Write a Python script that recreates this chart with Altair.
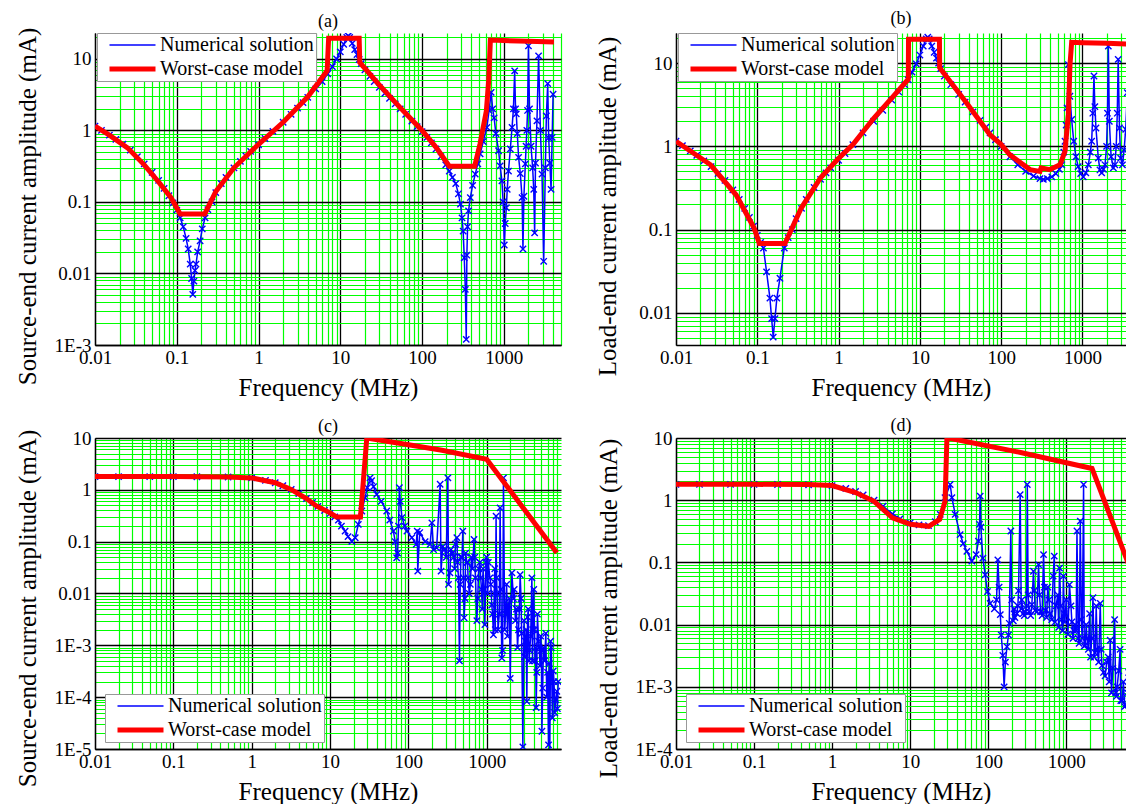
import altair as alt
import pandas as pd

FONT = "Liberation Serif"
GREEN = "#00ff00"
SERIES = ["Numerical solution", "Worst-case model"]

# ---------------- panel (a): source-end ----------------
a_blue_f = [0.01, 0.012, 0.015, 0.018, 0.022, 0.027, 0.033, 0.04, 0.05, 0.06, 0.07, 0.08, 0.09, 0.1, 0.11,
            0.12, 0.13, 0.138, 0.146, 0.152, 0.157, 0.162, 0.167, 0.172, 0.18, 0.193, 0.205, 0.222, 0.24, 0.27,
            0.3, 0.35, 0.4, 0.5, 0.6, 0.7, 0.8, 1.0, 1.2, 1.5, 2.0, 2.5, 3.0, 3.5, 4.0, 5.0, 6.0, 7.0, 8.0, 9.0,
            10, 11, 12, 12.5, 13, 14, 15, 16, 17, 18, 20, 23, 26, 30, 35, 40, 47, 54, 63, 75, 87, 100, 115, 130,
            148, 170, 195, 215, 235, 258, 278, 295, 308, 318, 328, 338, 347, 353, 360, 370, 389, 415, 447, 480,
            513, 560, 620, 660, 700, 730, 760, 800, 863, 900, 948, 980, 1013, 1040, 1073, 1100, 1140, 1200, 1260,
            1310, 1356, 1390, 1420, 1460, 1515, 1590, 1670, 1713, 1760, 1832, 1870, 1910, 1950, 2000, 2060, 2150,
            2250, 2320, 2380, 2440, 2540, 2660, 2800, 2930, 3070, 3220, 3310, 3440, 3535, 3650, 3780, 3900, 4000]
a_blue_v = [1.15, 1.0, 0.86, 0.75, 0.64, 0.53, 0.43, 0.34, 0.26, 0.2, 0.155, 0.122, 0.097, 0.077, 0.06,
            0.045, 0.031, 0.022, 0.0135, 0.0085, 0.0051, 0.0078, 0.011, 0.0135, 0.02, 0.0285, 0.042, 0.06, 0.078, 0.1,
            0.135, 0.18, 0.22, 0.3, 0.37, 0.44, 0.51, 0.63, 0.77, 0.97, 1.3, 1.68, 2.05, 2.45, 2.9, 3.8, 4.8, 6.2, 7.8, 10.0,
            12.5, 16, 20, 21, 20, 16.5, 13.5, 11.5, 9.8, 8.6, 7.0, 5.7, 4.8, 4.0, 3.3, 2.8, 2.35, 2.0, 1.68, 1.35, 1.13, 0.96, 0.8, 0.67,
            0.55, 0.43, 0.33, 0.27, 0.22, 0.18, 0.13, 0.093, 0.06, 0.039, 0.0166, 0.006, 0.0012, 0.018, 0.045, 0.075, 0.115, 0.17, 0.245, 0.34,
            0.47, 0.7, 1.1, 1.9, 3.4, 2.0, 1.5, 0.9, 0.52, 0.32, 0.197, 0.1, 0.025, 0.05, 0.083, 0.15, 0.27, 0.55, 1.1,
            2.0, 6.8, 2.0, 1.7, 0.9, 0.42, 0.25, 0.115, 0.022, 0.12, 0.34, 0.6, 1.0, 1.9, 15.2, 2.0, 0.6,
            0.3, 0.15, 0.037, 0.35, 1.36, 11, 1.0, 0.245, 0.0148, 0.3, 1.59, 4.5, 0.79, 0.35, 0.15, 0.8, 3.2]
a_red_f = [0.01, 0.015, 0.025, 0.04, 0.06, 0.085, 0.11, 0.22, 0.3, 0.5, 1.0, 2.0, 4.0, 6.9, 7.2, 17.0, 17.3,
           29, 54, 100, 150, 215, 440, 510, 611, 652, 684, 1000, 2000, 4100]
a_red_v = [1.15, 0.86, 0.57, 0.33, 0.19, 0.115, 0.068, 0.068, 0.14, 0.3, 0.64, 1.3, 2.95, 6.8, 19.5, 19.5, 8.9,
           4.5, 2.08, 1.0, 0.57, 0.316, 0.316, 0.64, 1.87, 4.9, 18.3, 18.0, 17.6, 17.2]

# ---------------- panel (b): load-end ----------------
b_blue_f = [0.01, 0.012, 0.015, 0.018, 0.022, 0.027, 0.033, 0.04, 0.05, 0.06, 0.07, 0.08, 0.09, 0.1, 0.11,
            0.119, 0.13, 0.143, 0.15, 0.157, 0.165, 0.174, 0.19, 0.215, 0.24, 0.27, 0.3, 0.35, 0.4, 0.5, 0.6, 0.7,
            0.8, 1.0, 1.2, 1.5, 2.0, 2.7, 3.5, 4.5, 5.5, 6.5, 7.2, 8, 9, 10, 11, 12, 12.5, 13, 14, 15, 16, 17, 18,
            20, 24, 30, 36, 45, 55, 65, 73, 85, 100, 128, 160, 200, 250, 300, 330, 370, 420, 470, 520, 556, 590,
            610, 630, 647, 670, 700, 736, 780, 830, 885, 950, 1023, 1100, 1180, 1250, 1297, 1340, 1385, 1420, 1465,
            1565, 1640, 1723, 1810, 1893, 1980, 2030, 2080, 2140, 2250, 2400, 2500, 2600, 2680, 2750, 2850, 2950,
            3100, 3250, 3400, 3560, 3650, 3800, 3950, 4100, 4250, 4400]
b_blue_v = [1.15, 1.02, 0.88, 0.78, 0.67, 0.57, 0.47, 0.39, 0.3, 0.23, 0.18, 0.14, 0.11, 0.085, 0.07,
            0.06, 0.031, 0.015, 0.0085, 0.0051, 0.0085, 0.015, 0.026, 0.06, 0.08, 0.1, 0.135, 0.18, 0.23, 0.32, 0.4, 0.48,
            0.55, 0.68, 0.82, 1.05, 1.45, 2.0, 2.7, 3.6, 4.5, 5.5, 6.3, 7.8, 9.8, 12.5, 16, 19.5, 20.5, 19.5, 16, 13.5, 11.5, 10, 8.6,
            7.0, 5.5, 4.2, 3.4, 2.6, 2.05, 1.7, 1.45, 1.2, 1.0, 0.75, 0.6, 0.5, 0.44, 0.41, 0.4, 0.41, 0.43, 0.47, 0.53, 0.6, 0.85,
            1.15, 1.8, 2.9, 9.6, 4.0, 2.1, 1.15, 0.75, 0.57, 0.47, 0.43, 0.48, 0.6, 0.85, 1.15, 2.5, 7.0, 3.0, 1.66,
            0.72, 0.52, 0.48, 0.53, 0.6, 1.0, 2.5, 16, 2.0, 0.75, 0.55, 0.6, 1.0, 2.5, 11.1, 1.66, 0.72,
            0.6, 0.9, 1.6, 4.4, 1.5, 0.9, 1.2, 2.0, 3.6, 1.4]
b_red_f = [0.01, 0.015, 0.0266, 0.055, 0.091, 0.106, 0.219, 0.346, 0.6, 0.975, 1.5, 2.72, 4.5, 7.2, 7.25, 17.4,
           17.5, 36, 72.8, 100, 128, 226, 300, 310, 398, 529, 609, 670, 702, 736, 1000, 2000, 4400]
b_red_v = [1.15, 0.88, 0.6, 0.26, 0.105, 0.068, 0.068, 0.18, 0.42, 0.70, 1.05, 2.19, 3.8, 6.4, 19.3, 19.3,
           8.8, 3.5, 1.38, 1.05, 0.79, 0.525, 0.5, 0.55, 0.525, 0.6, 0.87, 2.4, 9.6, 17.8, 17.6, 17.3, 16.8]

# ---------------- panel (c): source-end ----------------
c_blue_f = [0.01, 0.02, 0.05, 0.1, 0.2, 0.5, 1.0, 1.5, 2.0, 2.5, 3.2, 4.0, 5.0, 6.0, 7.0, 8.5, 10, 11.5, 12.8,
            14, 15.6, 17, 19, 21, 23, 25.5, 28, 30, 32.5, 34, 36, 39.5, 45, 53, 58, 64.5, 68, 71, 73, 75, 77, 79,
            83, 90, 96, 111, 126, 130, 132, 140, 164, 190, 200, 210, 230, 255, 262, 275, 290, 320, 326, 350, 380,
            400, 417, 437, 450, 470, 496, 516, 540, 560, 580, 600, 640, 690, 720, 750, 790, 820, 860, 900, 950,
            1000, 1050, 1100, 1164, 1222, 1270, 1320, 1360, 1400, 1486, 1563, 1640, 1700, 1800, 1900, 2000, 2100,
            2200, 2400, 2550, 2680, 2800, 2900, 3000, 3120, 3260, 3400, 3550, 3780, 3900, 4000, 4150, 4290, 4450,
            4700, 4900, 5080, 5300, 5700, 6000, 6170, 6400, 6700, 7100, 7400, 7870, 8200]
c_blue_v = [1.8, 1.8, 1.8, 1.8, 1.79, 1.77, 1.7, 1.52, 1.37, 1.2, 1.02, 0.85, 0.68, 0.57, 0.48, 0.4, 0.35, 0.3, 0.26,
            0.2, 0.16, 0.125, 0.102, 0.119, 0.216, 0.39, 0.7, 1.1, 1.7, 1.5, 1.15, 0.82, 0.6, 0.39, 0.26, 0.16, 0.1, 0.049, 0.06, 0.2, 1.1, 0.6,
            0.29, 0.2, 0.16, 0.12, 0.089, 0.16, 0.027, 0.15, 0.1, 0.089, 0.23, 0.07, 0.076, 1.28, 0.027, 0.08, 0.07, 1.7, 0.015, 0.07, 0.05,
            0.09, 0.12, 0.02, 0.0005, 0.05, 0.16, 0.0034, 0.06, 0.04, 0.02, 0.01, 0.05, 0.11, 0.02, 0.003, 0.03, 0.04, 0.012, 0.03, 0.0025,
            0.05, 0.04, 0.02, 0.006, 0.0016, 0.03, 0.31, 0.01, 0.002, 0.45, 0.00057, 1.7, 0.002, 0.015, 0.006, 0.00023, 0.025,
            0.008, 0.005, 0.002, 0.023, 0.0017, 0.000011, 0.003, 0.0012, 0.000083, 0.005, 0.0008, 0.02, 0.002, 0.012, 0.0005, 0.000063, 0.004,
            0.0009, 0.0015, 0.000022, 0.0009, 0.0017, 0.0003, 0.000012, 0.000008, 0.0009, 0.00032, 0.00005, 0.00013, 0.0002]
# further readings from the dense high-frequency part of (c)
c_blue_f2 = [305, 340, 365, 390, 425, 460, 485, 505, 530, 570, 620, 660, 705, 770, 840, 880, 930, 980, 1030,
             1130, 1190, 1250, 1290, 1340, 1450, 1520, 1600, 1750, 1850, 1950, 2250, 2330, 2480, 2620, 2750,
             3060, 3200, 3330, 3480, 3650, 3850, 4080, 4220, 4370, 4600, 4800, 5000, 5200, 5500, 5850, 6300,
             6550, 6900, 7250, 7600, 8000]
c_blue_v2 = [0.05, 0.025, 0.06, 0.03, 0.04, 0.015, 0.05, 0.02, 0.008, 0.04, 0.015, 0.03, 0.05, 0.008, 0.02,
             0.005, 0.012, 0.04, 0.01, 0.015, 0.004, 0.01, 0.002, 0.02, 0.004, 0.012, 0.0008, 0.004, 0.0015,
             0.008, 0.012, 0.003, 0.0009, 0.005, 0.008, 0.0006, 0.002, 0.0035, 0.0005, 0.0015, 0.0005, 0.002,
             0.0009, 0.0003, 0.0012, 0.0004, 0.0008, 0.00015, 0.0005, 0.0001, 0.00045, 0.0012, 0.00004, 0.0002,
             0.00009, 0.00006]
c_red_f = [0.01, 0.1, 0.5, 1.0, 2.0, 3.18, 5.0, 6.7, 10, 12.1, 24.5, 29.5, 96, 269, 1000, 7870]
c_red_v = [1.8, 1.8, 1.77, 1.7, 1.37, 1.02, 0.68, 0.49, 0.36, 0.3, 0.3, 10, 7.5, 5.8, 3.9, 0.061]

# ---------------- panel (d): load-end ----------------
d_blue_f = [0.01, 0.02, 0.05, 0.1, 0.2, 0.5, 1.0, 1.5, 2.0, 2.5, 3.45, 4.5, 5.93, 7.4, 10, 13, 17.2, 21, 24.3, 28,
            32.6, 34.3, 37.8, 43.7, 48, 53.3, 61.7, 70, 75, 77.5, 79, 80.5, 85.5, 91.5, 98, 106, 120, 128, 133, 138,
            143, 147, 154, 160, 166, 174, 182, 186, 195, 200, 210, 220, 233, 245, 257, 265, 280, 300, 317, 335, 363,
            380, 400, 442, 470, 512, 540, 580, 620, 702, 740, 821, 870, 920, 960, 1000, 1100, 1180, 1250, 1300, 1372,
            1420, 1514, 1600, 1668, 1755, 1850, 1995, 2050, 2200, 2350, 2500, 2730, 2870, 3000, 3300, 3660, 3800,
            4170, 4300, 4500, 4900, 5200, 5600, 6300, 6600, 6900, 7200, 7500]
d_blue_v = [1.8, 1.8, 1.8, 1.8, 1.79, 1.77, 1.72, 1.55, 1.38, 1.22, 1.0, 0.8, 0.6, 0.5, 0.43, 0.4, 0.39, 0.45, 0.59, 1.1,
            1.79, 1.1, 0.59, 0.28, 0.2, 0.15, 0.105, 0.133, 0.22, 0.41, 1.16, 0.37, 0.117, 0.063, 0.034, 0.022, 0.018, 0.025, 0.11, 0.04,
            0.0145, 0.0068, 0.0032, 0.001, 0.0025, 0.0044, 0.0068, 0.0105, 0.32, 0.025, 0.0115, 0.013, 0.015, 0.035, 1.23, 0.018, 0.015, 0.016, 1.79, 0.016, 0.021,
            0.072, 0.017, 0.092, 0.016, 0.133, 0.017, 0.04, 0.015, 0.126, 0.02, 0.081, 0.012, 0.06, 0.011, 0.025, 0.044, 0.011, 0.008, 0.01, 0.32,
            0.006, 0.46, 0.006, 1.79, 0.0047, 0.006, 0.015, 0.003, 0.027, 0.0035, 0.004, 0.022, 0.0022, 0.0017, 0.0025, 0.0056, 0.0008,
            0.012, 0.0008, 0.001, 0.004, 0.0006, 0.00048, 0.0017, 0.00035, 0.00026, 0.0005, 0.00025]
# further readings from the dense high-frequency part of (d)
d_blue_f2 = [215, 240, 270, 290, 310, 325, 350, 390, 420, 455, 490, 525, 560, 600, 650, 680, 720, 780, 800, 850,
             900, 940, 1050, 1150, 1220, 1340, 1460, 1560, 1700, 1800, 1920, 2120, 2280, 2420, 2600, 2800, 3150,
             3450, 3550, 3950, 4400, 4700, 5000, 5400, 5800, 6100, 6450, 6750, 7050, 7350]
d_blue_v2 = [0.018, 0.02, 0.025, 0.014, 0.02, 0.03, 0.014, 0.035, 0.016, 0.03, 0.014, 0.04, 0.013, 0.025, 0.012,
             0.06, 0.011, 0.03, 0.009, 0.02, 0.008, 0.015, 0.007, 0.02, 0.006, 0.008, 0.005, 0.012, 0.0045, 0.01,
             0.004, 0.006, 0.003, 0.02, 0.0025, 0.004, 0.0015, 0.003, 0.0012, 0.002, 0.0007, 0.0018, 0.0006,
             0.0012, 0.0005, 0.0008, 0.0004, 0.0006, 0.0003, 0.0004]
d_red_f = [0.01, 0.1, 0.5, 1.0, 2.0, 3.45, 5.93, 10.1, 17.3, 23.9, 28, 29.6, 31, 269, 2140, 7600]
d_red_v = [1.8, 1.8, 1.78, 1.72, 1.33, 0.96, 0.52, 0.41, 0.38, 0.49, 0.96, 10, 10, 5.8, 3.24, 0.05]

XMARK = "M-1,-1L1,1M-1,1L1,-1"
LEGPATH = "M0.1,0L9.3,0"


def minor_values(lo, hi):
    out = []
    for e in range(-6, 5):
        for k in range(2, 10):
            val = k * 10.0 ** e
            if lo < val <= hi:
                out.append(val)
    return out


def panel(bf, bv, rf, rv, xmax, ydom, ymajor, ytitle, title, w, h, lx, ly, ty, tpad, toff):
    blue = pd.DataFrame({"f": bf, "v": bv, "series": SERIES[0]})
    red = pd.DataFrame({"f": rf, "v": rv, "series": SERIES[1]})
    xs = alt.Scale(type="log", domain=[0.01, xmax], nice=False)
    ys = alt.Scale(type="log", domain=ydom, nice=False)
    xmajor = [0.01, 0.1, 1, 10, 100, 1000]

    x_minor = alt.Axis(orient="bottom", values=minor_values(0.01, xmax), grid=True, gridColor=GREEN,
                       gridWidth=1.2, labels=False, ticks=False, domain=False, title=None, minExtent=0)
    y_minor = alt.Axis(orient="left", values=minor_values(ydom[0], ydom[1]), grid=True, gridColor=GREEN,
                       gridWidth=1.2, labels=False, ticks=False, domain=False, title=None, minExtent=0)
    x_major = alt.Axis(orient="bottom", values=xmajor, grid=True, gridColor="black", gridWidth=1.3,
                       ticks=False, tickSize=0, domain=True, domainColor="black", domainWidth=1.3,
                       labelFont=FONT, labelFontSize=19, labelColor="black", labelPadding=3,
                       labelOverlap=False, labelFlush=False, labelExpr="'' + datum.value",
                       title="Frequency (MHz)", titleFont=FONT, titleFontSize=25, titleFontWeight="normal",
                       titleColor="black", titlePadding=8)
    y_major = alt.Axis(orient="left", values=ymajor, grid=True, gridColor="black", gridWidth=1.3,
                       ticks=False, tickSize=0, domain=True, domainColor="black", domainWidth=1.3,
                       labelFont=FONT, labelFontSize=19, labelColor="black", labelPadding=4,
                       labelOverlap=False, labelFlush=False,
                       labelExpr="datum.value < 0.005 ? '1E' + round(log(datum.value) / LN10) : '' + datum.value",
                       title=ytitle, titleFont=FONT, titleFontSize=25, titleFontWeight="normal",
                       titleColor="black", titlePadding=tpad, titleY=ty)

    leg = alt.Legend(title=None, orient="none", legendX=lx, legendY=ly, symbolType=LEGPATH, symbolSize=100,
                     labelFont=FONT, labelFontSize=20, labelColor="black", padding=2, rowPadding=4,
                     labelOffset=41, fillColor="white", strokeColor="#999999", cornerRadius=0, labelLimit=0)
    color = alt.Color("series:N", scale=alt.Scale(domain=SERIES, range=["#0000ff", "#ff0000"]), legend=leg)
    sw = alt.StrokeWidth("series:N", scale=alt.Scale(domain=SERIES, range=[1.5, 5]), legend=leg)

    g1 = alt.Chart(red).mark_line(opacity=0, clip=True).encode(
        x=alt.X("f:Q", scale=xs, axis=x_minor), y=alt.Y("v:Q", scale=ys, axis=y_minor))
    g2 = alt.Chart(red).mark_line(opacity=0, clip=True).encode(
        x=alt.X("f:Q", scale=xs, axis=x_major), y=alt.Y("v:Q", scale=ys, axis=y_major))
    bl = alt.Chart(blue).mark_line(clip=True).encode(
        x=alt.X("f:Q", scale=xs, axis=None), y=alt.Y("v:Q", scale=ys, axis=None), color=color, strokeWidth=sw)
    bp = alt.Chart(blue).mark_point(shape=XMARK, size=40, filled=False, color="#0000ff", strokeWidth=1.4,
                                    opacity=1, clip=True).encode(
        x=alt.X("f:Q", scale=xs, axis=None), y=alt.Y("v:Q", scale=ys, axis=None))
    rl = alt.Chart(red).mark_line(clip=True).encode(
        x=alt.X("f:Q", scale=xs, axis=None), y=alt.Y("v:Q", scale=ys, axis=None), color=color, strokeWidth=sw)

    return alt.layer(g1, g2, bl, bp, rl).resolve_axis(x="independent", y="independent").properties(
        width=w, height=h,
        title=alt.TitleParams(title, font=FONT, fontSize=18, fontWeight="normal", color="black", offset=toff,
                              anchor="middle", frame="group"))


pa = panel(a_blue_f, a_blue_v, a_red_f, a_red_v, 5000, [0.001, 23], [0.001, 0.01, 0.1, 1, 10],
           "Source-end current amplitude (mA)", "(a)", 466, 312, 2, 0, 173, 14, -4)
pb = panel(b_blue_f, b_blue_v, b_red_f, b_red_v, 3430, [0.0041, 23], [0.01, 0.1, 1, 10],
           "Load-end current amplitude (mA)", "(b)", 450, 312, 2, 0, 173, 18, 5)
pc = panel(c_blue_f + c_blue_f2, c_blue_v + c_blue_v2, c_red_f, c_red_v, 8900, [0.00001, 10],
           [0.00001, 0.0001, 0.001, 0.01, 0.1, 1, 10],
           "Source-end current amplitude (mA)", "(c)", 466, 311, 10, 256, 170, 14, -7)
pd_ = panel(d_blue_f + d_blue_f2, d_blue_v + d_blue_v2, d_red_f, d_red_v, 5830, [0.0001, 10],
            [0.0001, 0.001, 0.01, 0.1, 1, 10],
            "Load-end current amplitude (mA)", "(d)", 450, 311, 10, 256, 170, 14, -6)

chart = alt.concat(
    pa, pb, pc, pd_, columns=2, bounds="flush", align="each",
    spacing={"row": 93, "column": 115},
).resolve_scale(
    color="independent", strokeWidth="independent").resolve_legend(
    color="independent", strokeWidth="independent").properties(
    padding={"left": 7, "top": 1, "right": 0, "bottom": 0},
    background="white",
).configure_view(stroke=None)

chart.save("out.html", embed_options={"renderer": "svg", "actions": False})
